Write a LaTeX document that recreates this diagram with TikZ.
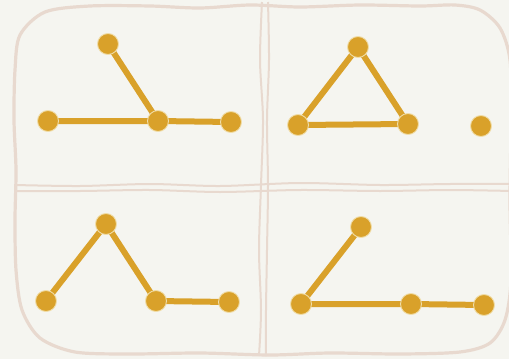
\documentclass[tikz,border=0pt]{standalone}
\definecolor{bg}{HTML}{F5F5F0}
\definecolor{frame}{HTML}{E8D9CF}
\definecolor{gold}{HTML}{D9A12A}
\definecolor{goldrim}{HTML}{F0DDA8}
\begin{document}
\begin{tikzpicture}[x=1pt,y=-1pt,
  vtx/.style={circle,fill=gold,draw=goldrim,line width=0.9pt,minimum size=21pt,inner sep=0pt},
  edge/.style={draw=gold,line width=6pt},
  framewire/.style={draw=frame,line width=3.2pt},
  divider/.style={draw=frame,line width=2pt}]
\fill[bg] (0,0) rectangle (509,359);
\useasboundingbox (0,0) rectangle (509,359);
% dividers
\draw[divider] plot[smooth] coordinates {(262,2) (260,60) (263,120) (261,185) (259,250) (261,310) (259,356)};
\draw[divider] plot[smooth] coordinates {(268,2) (269,60) (267,120) (268,185) (267,250) (266,310) (266,356)};
\draw[divider] plot[smooth] coordinates {(15,185) (80,186) (150,184) (220,186) (300,183) (380,185) (450,184) (512,184)};
\draw[divider] plot[smooth] coordinates {(15,191) (80,191) (150,190) (220,192) (300,190) (380,191) (450,190) (512,191)};
% frame
\draw[framewire] plot[smooth cycle] coordinates {(15,70) (20,35) (45,12) (90,6) (150,6) (200,8) (250,5) (300,7) (360,5) (420,6) (455,5) (480,10) (500,28) (510,60) (511,120) (510,200) (511,280) (505,320) (490,343) (460,352) (400,354) (330,353) (270,355) (200,353) (130,354) (75,352) (40,338) (22,310) (16,270) (15,220) (16,170) (14,120)};
% positions
\coordinate (a1) at (108,44); \coordinate (b1) at (48,121);
\coordinate (c1) at (158,121); \coordinate (d1) at (231,122);
\coordinate (a2) at (358,47); \coordinate (b2) at (298,125);
\coordinate (c2) at (408,124); \coordinate (d2) at (481,126);
\coordinate (a3) at (106,224); \coordinate (b3) at (46,301);
\coordinate (c3) at (156,301); \coordinate (d3) at (229,302);
\coordinate (a4) at (361,227); \coordinate (b4) at (301,304);
\coordinate (c4) at (411,304); \coordinate (d4) at (484,305);
% edges
\path[edge] (a1) -- (c1) (b1) -- (c1) (c1) -- (d1);
\path[edge] (a2) -- (b2) (a2) -- (c2) (b2) -- (c2);
\path[edge] (a3) -- (b3) (a3) -- (c3) (c3) -- (d3);
\path[edge] (a4) -- (b4) (b4) -- (c4) (c4) -- (d4);
% vertices
\foreach \v in {a1,b1,c1,d1,a2,b2,c2,d2,a3,b3,c3,d3,a4,b4,c4,d4}
  \node[vtx] (n\v) at (\v) {};
\end{tikzpicture}
\end{document}
